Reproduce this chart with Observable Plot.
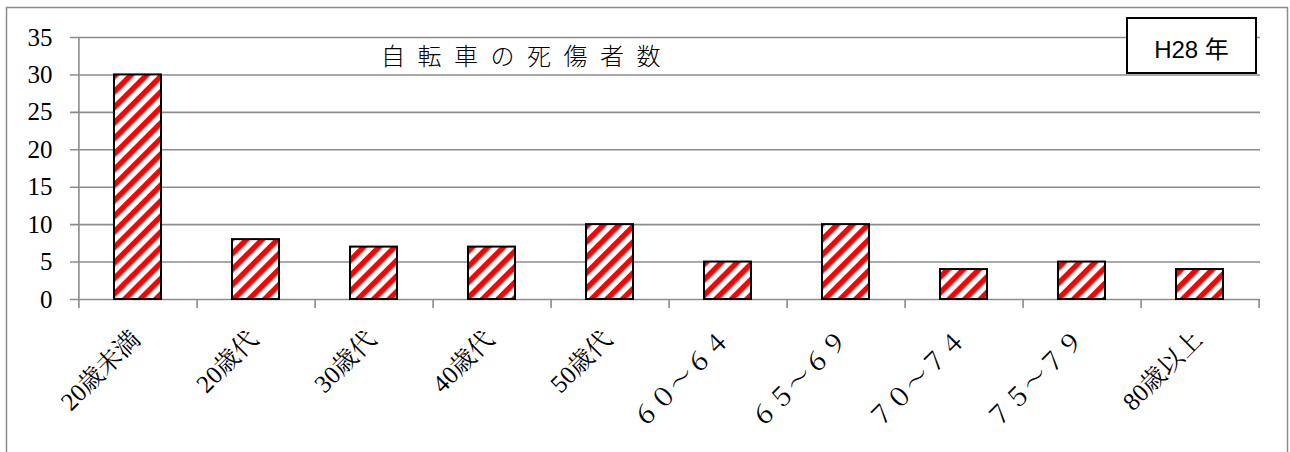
<!DOCTYPE html>
<html lang="ja">
<head>
<meta charset="utf-8">
<script src="https://cdn.jsdelivr.net/npm/d3@7"></script>
<script src="https://cdn.jsdelivr.net/npm/@observablehq/plot@0.6"></script>
<style>
  html, body { margin: 0; padding: 0; background: #fff; }
  #chart { position: relative; width: 1290px; height: 452px; overflow: hidden; }
  #chart svg { position: absolute; left: 0; top: 0; }
  .title {
    position: absolute; left: 381px; top: 37px;
    font-family: "Noto Sans CJK JP", sans-serif; font-size: 24px; font-weight: 300;
    letter-spacing: 12.5px; color: #000; white-space: nowrap;
  }
  .year {
    position: absolute; left: 1126px; top: 17px; width: 127px; height: 49px;
    border: 2px solid #000; background: #fff; box-sizing: content-box;
    display: flex; align-items: center; justify-content: center;
    font-family: "Liberation Sans", "Noto Sans CJK JP", sans-serif; font-size: 24px; color: #000;
    padding-top: 4px;
  }
</style>
</head>
<body>
<div id="chart">
  <div class="title">自転車の死傷者数</div>
  <div class="year">H28 年</div>
</div>
<script>
// Age groups and number of cyclist casualties
const categories = ["20歳未満", "20歳代", "30歳代", "40歳代", "50歳代", "６０～６４", "６５～６９", "７０～７４", "７５～７９", "80歳以上"];
const casualties = [30, 8, 7, 7, 10, 5, 10, 4, 5, 4];
const yTicks = [0, 5, 10, 15, 20, 25, 30, 35];

const rows = categories.map((c, i) => ({category: c, value: casualties[i]}));

const W = 1290, H = 452;
const mL = 78, mR = 30, mT = 37, mB = 153;
const step = (W - mL - mR) / categories.length;
const grid = "#8c8c8c";
const serif = "'Liberation Serif', 'Noto Serif CJK JP', 'DejaVu Serif', serif";

const plot = Plot.plot({
  width: W, height: H,
  marginLeft: mL, marginRight: mR, marginTop: mT, marginBottom: mB,
  x: {domain: categories, paddingInner: 0.6, paddingOuter: 0.3, axis: null},
  y: {domain: [0, 35], axis: null},
  style: {background: "transparent", overflow: "visible"},
  marks: [
    // outer chart border
    Plot.frame({stroke: grid, strokeWidth: 1.5, insetLeft: -72, insetTop: -30, insetRight: -27, insetBottom: -160}),
    // horizontal gridlines with small outward ticks
    Plot.ruleY(yTicks, {stroke: grid, strokeWidth: 1.6, insetLeft: -8}),
    // value axis line
    Plot.ruleX([categories[0]], {x: d => d, y1: -1.2, y2: 35, dx: -step / 2, stroke: grid, strokeWidth: 1.6}),
    // category boundary ticks
    Plot.ruleX(categories, {x: d => d, y1: 0, y2: -1.2, dx: step / 2, stroke: grid, strokeWidth: 1.6}),
    // hatched bars
    Plot.barY(rows, {x: "category", y: "value", fill: "url(#stripes)", stroke: "#000", strokeWidth: 2}),
    // y tick labels
    Plot.text(yTicks, {y: d => d, text: d => String(d), frameAnchor: "left", textAnchor: "end", dx: -26, fontSize: 25, fill: "#000"}),
    // rotated category labels
    Plot.text(categories, {x: d => d, text: d => d, frameAnchor: "bottom", rotate: -45, textAnchor: "end", lineAnchor: "middle", dx: -2, dy: 36, fontSize: 25, fill: "#000"})
  ]
});

// serif type for all tick labels
d3.select(plot).selectAll("text").style("font-family", serif);

// red diagonal stripe fill used by the bars
const defs = d3.select(plot).insert("defs", ":first-child");
const pat = defs.append("pattern")
  .attr("id", "stripes")
  .attr("patternUnits", "userSpaceOnUse")
  .attr("width", 11).attr("height", 11)
  .attr("patternTransform", "rotate(45)");
pat.append("rect").attr("width", 11).attr("height", 11).attr("fill", "#fff");
pat.append("rect").attr("width", 5.5).attr("height", 11).attr("fill", "#ff0000");

const chart = document.getElementById("chart");
chart.insertBefore(plot, chart.firstChild);
</script>
</body>
</html>
